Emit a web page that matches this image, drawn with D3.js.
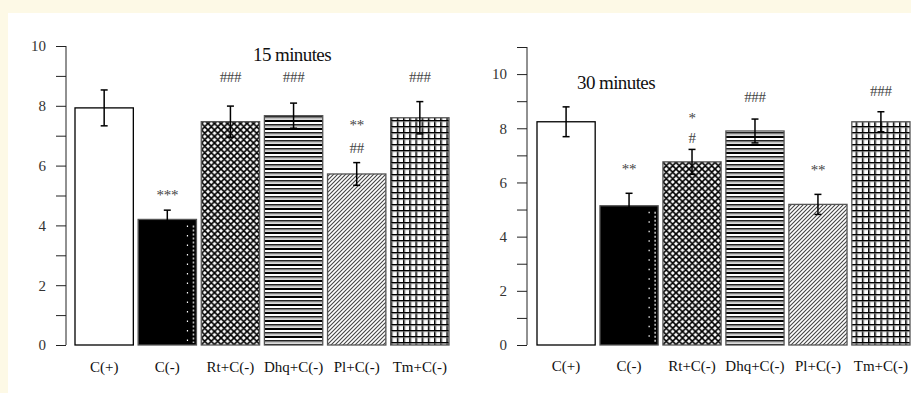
<!DOCTYPE html>
<html>
<head>
<meta charset="utf-8">
<script src="https://cdn.jsdelivr.net/npm/d3@7"></script>
<style>
  html, body { margin: 0; padding: 0; background: #fdf9e6; }
  svg { display: block; }
  text { font-family: "Liberation Serif", "Times New Roman", serif; }
</style>
</head>
<body>
<svg id="chart" width="911" height="393"></svg>
<script>
// ---------- data ----------
const categories = ["C(+)", "C(-)", "Rt+C(-)", "Dhq+C(-)", "Pl+C(-)", "Tm+C(-)"];
const values15 = [7.93, 4.2, 7.47, 7.67, 5.72, 7.6];
const errors15 = [0.6, 0.31, 0.52, 0.42, 0.38, 0.54];
const values30 = [8.24, 5.14, 6.76, 7.9, 5.19, 8.24];
const errors30 = [0.55, 0.46, 0.46, 0.44, 0.37, 0.37];
const majorTicks15 = [0, 2, 4, 6, 8, 10];
const minorTicks15 = [1, 3, 5, 7, 9];
const majorTicks30 = [0, 2, 4, 6, 8, 10];
const minorTicks30 = [1, 3, 5, 7, 9, 11];
// significance marks: [category, text, level]
const marks15 = [
  ["C(-)", "***", 4.85],
  ["Rt+C(-)", "###", 8.8],
  ["Dhq+C(-)", "###", 8.8],
  ["Pl+C(-)", "**", 7.19],
  ["Pl+C(-)", "##", 6.42],
  ["Tm+C(-)", "###", 8.8]
];
const marks30 = [
  ["C(-)", "**", 6.31],
  ["Rt+C(-)", "*", 8.19],
  ["Rt+C(-)", "#", 7.45],
  ["Dhq+C(-)", "###", 8.97],
  ["Pl+C(-)", "**", 6.27],
  ["Tm+C(-)", "###", 9.19]
];
const fills = ["#ffffff", "#000000", "url(#pCross)", "url(#pHLines)", "url(#pDiag)", "url(#pGrid)"];

// ---------- svg ----------
const svg = d3.select("#chart");
svg.append("rect").attr("x", 8).attr("y", 13).attr("width", 903).attr("height", 380).attr("fill", "#ffffff");

const defs = svg.append("defs");
// cross-hatch (diamonds)
let p = defs.append("pattern").attr("id", "pCross").attr("patternUnits", "userSpaceOnUse")
  .attr("width", 6.5).attr("height", 6.5);
p.append("rect").attr("width", 6.5).attr("height", 6.5).attr("fill", "#fff");
p.append("path").attr("d", "M0,0L6.5,6.5M6.5,0L0,6.5M-1,5.5L1,7.5M5.5,-1L7.5,1M-1,1L1,-1M5.5,7.5L7.5,5.5")
  .attr("stroke", "#000").attr("stroke-width", 1.7);
// horizontal stripes
p = defs.append("pattern").attr("id", "pHLines").attr("patternUnits", "userSpaceOnUse")
  .attr("width", 8).attr("height", 8);
p.append("rect").attr("width", 8).attr("height", 8).attr("fill", "#fff");
p.append("rect").attr("y", 0).attr("width", 8).attr("height", 2).attr("fill", "#000");
p.append("rect").attr("y", 4).attr("width", 8).attr("height", 1.6).attr("fill", "#222");
p.append("rect").attr("y", 6.5).attr("width", 8).attr("height", 0.8).attr("fill", "#888");
// diagonal hatch
p = defs.append("pattern").attr("id", "pDiag").attr("patternUnits", "userSpaceOnUse")
  .attr("width", 4).attr("height", 4);
p.append("rect").attr("width", 4).attr("height", 4).attr("fill", "#fff");
p.append("path").attr("d", "M0,4L4,0M-1,1L1,-1M3,5L5,3")
  .attr("stroke", "#444").attr("stroke-width", 1.1);
// grid
p = defs.append("pattern").attr("id", "pGrid").attr("patternUnits", "userSpaceOnUse")
  .attr("width", 6.2).attr("height", 6);
p.append("rect").attr("width", 6.2).attr("height", 6).attr("fill", "#fff");
p.append("rect").attr("x", 0).attr("width", 1.5).attr("height", 6).attr("fill", "#000");
p.append("rect").attr("x", 1.5).attr("width", 0.8).attr("height", 6).attr("fill", "#999");
p.append("rect").attr("y", 0).attr("width", 6.2).attr("height", 1.5).attr("fill", "#000");
p.append("rect").attr("y", 1.5).attr("width", 6.2).attr("height", 0.7).attr("fill", "#999");

function drawPanel(cfg) {
  const g = svg.append("g");
  const y = d3.scaleLinear().domain(cfg.domain).range(cfg.yRange);
  const x = d3.scaleBand().domain(categories).range(cfg.xRange).paddingInner(0.076).paddingOuter(0);
  const bw = x.bandwidth();

  // axes
  const major = d3.axisLeft(y).tickValues(cfg.major).tickSize(10).tickSizeOuter(0).tickPadding(10)
    .tickFormat(d3.format("d"));
  const ag = g.append("g").attr("transform", `translate(${cfg.axisX},0)`).call(major);
  ag.select(".domain").attr("d", `M0,${y(cfg.domain[1])}V${y(0)}`).attr("stroke", "#222");
  ag.selectAll(".tick line").attr("stroke", "#222");
  ag.selectAll(".tick text").attr("font-size", 15).attr("fill", "#333")
    .style("font-family", '"Liberation Serif", serif');
  const minor = d3.axisLeft(y).tickValues(cfg.minor).tickSize(10).tickFormat("");
  const mg = g.append("g").attr("transform", `translate(${cfg.axisX},0)`).call(minor);
  mg.select(".domain").remove();
  mg.selectAll(".tick line").attr("stroke", "#222");

  // bars
  g.selectAll(".bar").data(cfg.values).join("rect")
    .attr("x", (d, i) => x(categories[i]))
    .attr("y", d => y(d))
    .attr("width", bw)
    .attr("height", d => y(0) - y(d))
    .attr("fill", (d, i) => fills[i])
    .attr("stroke", (d, i) => i === 0 ? "#000" : "#555")
    .attr("stroke-width", 1.3);

  // white dotted streak on black bar
  const ci = 1;
  [bw - 9, bw - 3].forEach((off, k) => {
    g.append("line")
      .attr("x1", x(categories[ci]) + off).attr("x2", x(categories[ci]) + off)
      .attr("y1", y(cfg.values[ci]) + 6).attr("y2", y(0) - 2)
      .attr("stroke", k === 0 ? "#fff" : "#bbb").attr("stroke-width", k === 0 ? 1.2 : 1.6)
      .attr("stroke-dasharray", k === 0 ? "1.5,8" : "2,2");
  });

  // error bars
  const eg = g.append("g").attr("stroke", "#000").attr("stroke-width", 1.5);
  cfg.values.forEach((v, i) => {
    const cx = x(categories[i]) + bw / 2;
    const e = cfg.errors[i];
    eg.append("line").attr("x1", cx).attr("x2", cx).attr("y1", y(v + e)).attr("y2", y(v - e));
    eg.append("line").attr("x1", cx - 3.5).attr("x2", cx + 3.5).attr("y1", y(v + e)).attr("y2", y(v + e));
    eg.append("line").attr("x1", cx - 3.5).attr("x2", cx + 3.5).attr("y1", y(v - e)).attr("y2", y(v - e));
  });

  // category labels
  g.selectAll(".xl").data(categories).join("text")
    .attr("x", d => x(d) + bw / 2)
    .attr("y", cfg.labelY)
    .attr("text-anchor", "middle")
    .attr("font-size", 15)
    .attr("fill", "#111")
    .text(d => d);

  // significance marks
  g.selectAll(".mk").data(cfg.marks).join("text")
    .attr("x", d => x(d[0]) + bw / 2)
    .attr("y", d => y(d[2]))
    .attr("text-anchor", "middle")
    .attr("font-size", 15)
    .attr("letter-spacing", -0.3)
    .attr("fill", "#444")
    .text(d => d[1]);

  // title
  g.append("text").attr("x", cfg.titleX).attr("y", cfg.titleY)
    .attr("text-anchor", "middle").attr("font-size", 19).attr("letter-spacing", -0.6)
    .attr("fill", "#111").text(cfg.title);
}

drawPanel({
  values: values15, errors: errors15, marks: marks15,
  domain: [0, 10], yRange: [345, 46], xRange: [75, 449],
  major: majorTicks15, minor: minorTicks15, axisX: 66,
  labelY: 372, title: "15 minutes", titleX: 292, titleY: 61
});
drawPanel({
  values: values30, errors: errors30, marks: marks30,
  domain: [0, 11], yRange: [345, 47], xRange: [537, 910],
  major: majorTicks30, minor: minorTicks30, axisX: 527,
  labelY: 371, title: "30 minutes", titleX: 616, titleY: 89
});
</script>
</body>
</html>
